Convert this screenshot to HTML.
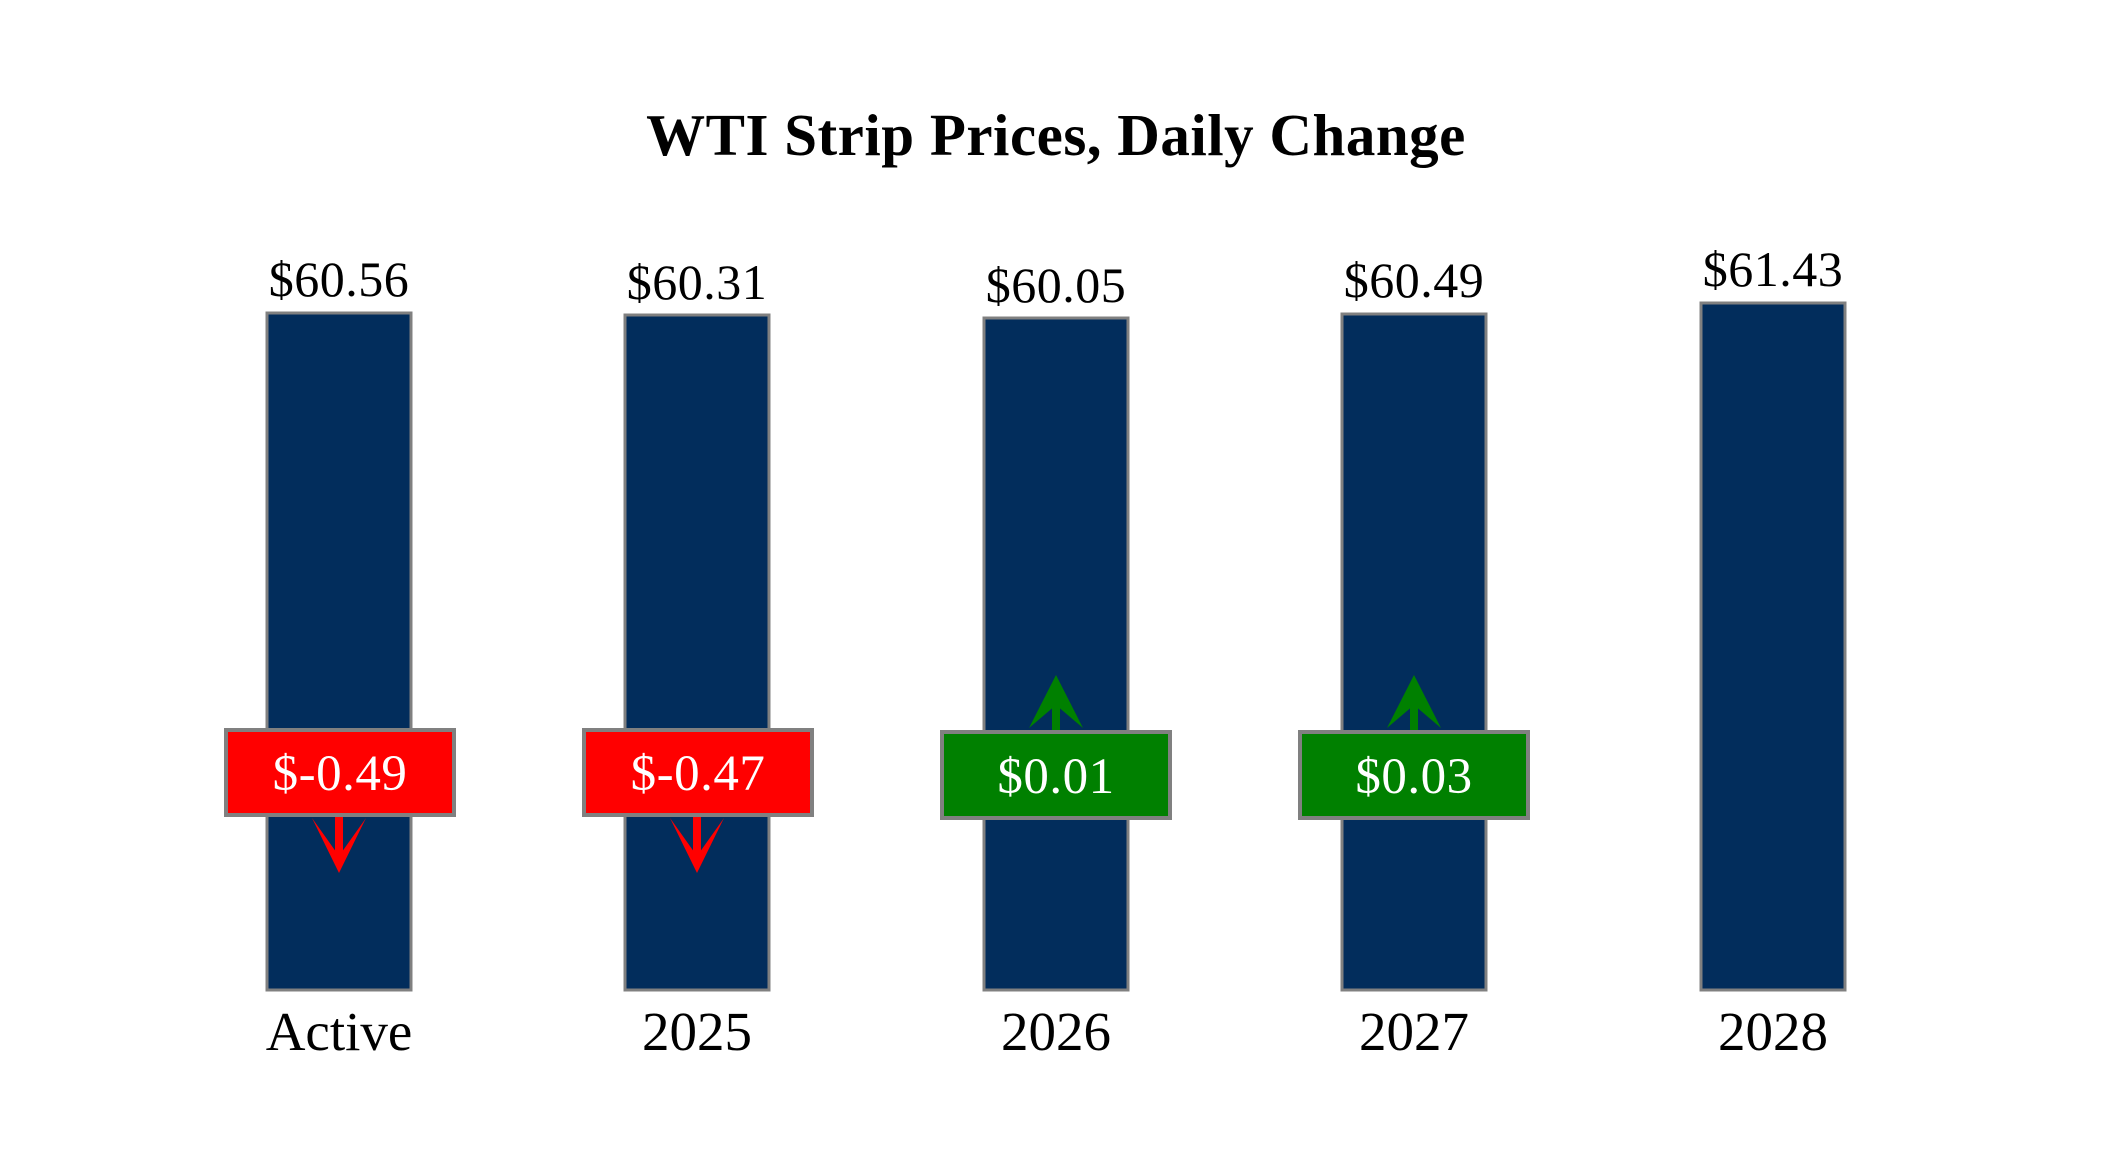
<!DOCTYPE html>
<html><head><style>
html,body{margin:0;padding:0;background:#fff;}
svg{display:block;}
text{font-family:"Liberation Serif",serif;}
</style></head><body>
<svg width="2112" height="1152" viewBox="0 0 2112 1152" xmlns="http://www.w3.org/2000/svg">
<rect width="2112" height="1152" fill="#fff"/>
<text x="1056" y="155" text-anchor="middle" font-size="59" font-weight="bold" fill="#000" letter-spacing="0.5">WTI Strip Prices, Daily Change</text>
<g stroke="#808080" stroke-width="3" fill="#022d5c">
<rect x="267" y="313" width="144" height="677"/>
<rect x="625" y="315" width="144" height="675"/>
<rect x="984" y="318" width="144" height="672"/>
<rect x="1342" y="314" width="144" height="676"/>
<rect x="1701" y="303" width="144" height="687"/>
</g>
<g font-size="50" text-anchor="middle" fill="#000" letter-spacing="0.5">
<text x="339" y="296">$60.56</text>
<text x="697" y="299">$60.31</text>
<text x="1056" y="302">$60.05</text>
<text x="1414" y="297">$60.49</text>
<text x="1773" y="286">$61.43</text>
</g>
<g font-size="55" text-anchor="middle" fill="#000">
<text x="339" y="1050">Active</text>
<text x="697" y="1050">2025</text>
<text x="1056" y="1050">2026</text>
<text x="1414" y="1050">2027</text>
<text x="1773" y="1050">2028</text>
</g>
<g fill="#ff0000">
<rect x="335" y="814" width="8" height="42"/>
<polygon points="312,818 339,856 366,818 339,873"/>
<rect x="693" y="814" width="8" height="42"/>
<polygon points="670,818 697,856 724,818 697,873"/>
</g>
<g fill="#008000">
<rect x="1052" y="700" width="8" height="32"/>
<polygon points="1029,728 1056,705 1083,728 1056,675"/>
<rect x="1410" y="700" width="8" height="32"/>
<polygon points="1387,728 1414,705 1441,728 1414,675"/>
</g>
<g stroke="#808080" stroke-width="4">
<rect x="226" y="730" width="228" height="85" fill="#ff0000"/>
<rect x="584" y="730" width="228" height="85" fill="#ff0000"/>
<rect x="942" y="732" width="228" height="86" fill="#008000"/>
<rect x="1300" y="732" width="228" height="86" fill="#008000"/>
</g>
<g font-size="51" text-anchor="middle" fill="#fff" letter-spacing="0.5">
<text x="340" y="790">$-0.49</text>
<text x="698" y="790">$-0.47</text>
<text x="1056" y="793">$0.01</text>
<text x="1414" y="793">$0.03</text>
</g>
</svg>
</body></html>
